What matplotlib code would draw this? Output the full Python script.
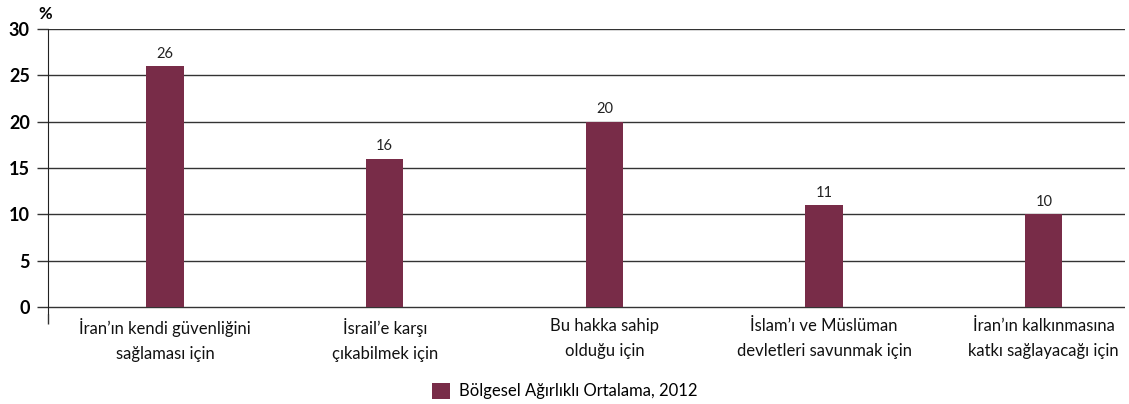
import matplotlib.pyplot as plt

categories = ["İran’ın kendi güvenliğini\nsağlaması için",
              "İsrail’e karşı\nçıkabilmek için",
              "Bu hakka sahip\nolduğu için",
              "İslam’ı ve Müslüman\ndevletleri savunmak için",
              "İran’ın kalkınmasına\nkatkı sağlayacağı için"]
values = [26, 16, 20, 11, 10]
series_name = "Bölgesel Ağırlıklı Ortalama, 2012"
yticks = [0, 5, 10, 15, 20, 25, 30]

plt.rcParams['font.family'] = ['Lato', 'DejaVu Sans']
bar_color = "#782C48"

fig = plt.figure(figsize=(11.29, 4.04), dpi=100)
ax = fig.add_axes([0.0425, 0.224, 0.954, 0.704])

x = list(range(len(categories)))
bars = ax.bar(x, values, width=0.17, color=bar_color, zorder=3, label=series_name)
for xi, v in zip(x, values):
    ax.text(xi, v + 0.6, str(v), ha="center", va="bottom", fontsize=10.5, color="#222222")

ax.set_xlim(-0.533, 4.37)
ax.set_yticks(yticks)
ax.set_yticklabels([str(t) for t in yticks], fontweight="bold", fontsize=13)
ax.set_xticks([-0.533])
ax.set_xticklabels([""])
for i, c in enumerate(categories):
    ax.text(i, -1.2, c, ha="center", va="top", fontsize=12, color="#111111", linespacing=1.65)

ax.grid(axis="y", color="#333333", linewidth=1, zorder=1)
ax.tick_params(axis="y", length=8, width=1, color="#333333", pad=5)
ax.tick_params(axis="x", length=7, width=1, color="#333333")
for s in ["top", "right", "bottom"]:
    ax.spines[s].set_visible(False)
ax.spines["left"].set_color("#222222")
ax.spines["left"].set_bounds(-0.7, 30)
ax.set_ylim(-0.7, 30)

ax.text(-0.003, 1.025, "%", transform=ax.transAxes, ha="center", va="bottom",
        fontsize=12, fontweight="bold")

fig.legend(handles=[bars], labels=[series_name], loc="center", bbox_to_anchor=(0.5, 0.032),
           frameon=False, fontsize=12, handlelength=1.1, handleheight=1.1, handletextpad=0.5)

fig.savefig("out.png", dpi=100)
